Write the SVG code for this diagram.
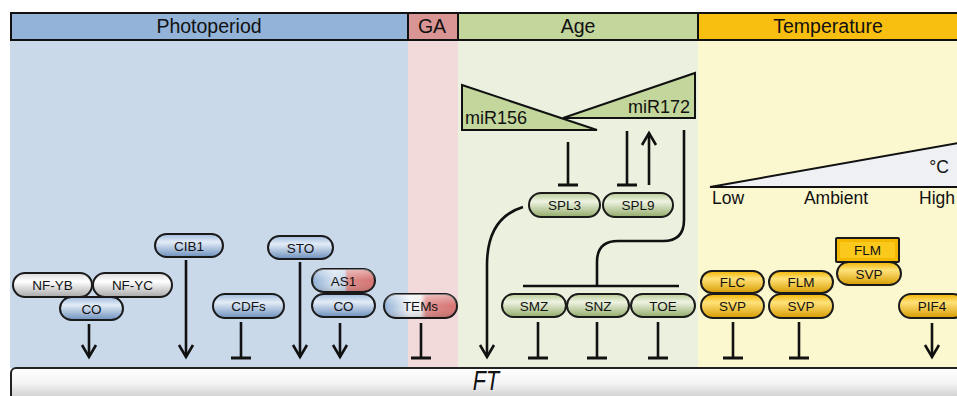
<svg xmlns="http://www.w3.org/2000/svg" width="957" height="396" viewBox="0 0 957 396">
<defs>
<style>
.hdr{stroke:#111;stroke-width:2}
.ht{font-family:"Liberation Sans",Arial,sans-serif;font-size:19.5px;fill:#111;text-anchor:middle}
.pill{stroke:#1a1a1a;stroke-width:2}
.nt{font-family:"Liberation Sans",Arial,sans-serif;font-size:13.5px;fill:#111;text-anchor:middle}
.ln{fill:none;stroke:#111;stroke-width:2.6}
.arr{marker-end:url(#ah)}
.inh{marker-end:url(#tb)}
.lab{font-family:"Liberation Sans",Arial,sans-serif;font-size:18px;fill:#111}
.tl{font-family:"Liberation Sans",Arial,sans-serif;font-size:17.5px;fill:#111}
.tri{stroke:#111;stroke-width:2}
</style>
<marker id="ah" markerUnits="userSpaceOnUse" markerWidth="20" markerHeight="20" refX="15" refY="10" orient="auto" viewBox="0 0 20 20">
<path d="M3 3 L15 10 L3 17" fill="none" stroke="#111" stroke-width="2.6"/>
</marker>
<marker id="tb" markerUnits="userSpaceOnUse" markerWidth="10" markerHeight="24" refX="5" refY="12" orient="auto" viewBox="0 0 10 24">
<path d="M5 2 L5 22" fill="none" stroke="#111" stroke-width="3"/>
</marker>
<linearGradient id="gBlue" x1="0" y1="0" x2="0" y2="1">
<stop offset="0" stop-color="#9fbbdd"/><stop offset="0.35" stop-color="#e3ecf7"/><stop offset="1" stop-color="#6d90bd"/>
</linearGradient>
<linearGradient id="gWhite" x1="0" y1="0" x2="0" y2="1">
<stop offset="0" stop-color="#d8d8d8"/><stop offset="0.35" stop-color="#ffffff"/><stop offset="1" stop-color="#a9a9a9"/>
</linearGradient>
<linearGradient id="gGreen" x1="0" y1="0" x2="0" y2="1">
<stop offset="0" stop-color="#b9cb96"/><stop offset="0.35" stop-color="#eef3e2"/><stop offset="1" stop-color="#93ab6a"/>
</linearGradient>
<linearGradient id="gYel" x1="0" y1="0" x2="0" y2="1">
<stop offset="0" stop-color="#f0b400"/><stop offset="0.35" stop-color="#ffe27a"/><stop offset="1" stop-color="#d79c00"/>
</linearGradient>
<linearGradient id="gAS1" x1="0" y1="0" x2="1" y2="0">
<stop offset="0" stop-color="#8eafd6"/><stop offset="0.35" stop-color="#d5e2f1"/><stop offset="0.52" stop-color="#c6d6ea"/><stop offset="0.56" stop-color="#dc8a88"/><stop offset="1" stop-color="#d57370"/>
</linearGradient>
<linearGradient id="gTEM" x1="0" y1="0" x2="1" y2="0">
<stop offset="0" stop-color="#8eafd6"/><stop offset="0.35" stop-color="#f2f4f8"/><stop offset="0.5" stop-color="#f0eeee"/><stop offset="0.58" stop-color="#de8d8b"/><stop offset="1" stop-color="#d57370"/>
</linearGradient>
<linearGradient id="gShade" x1="0" y1="0" x2="0" y2="1">
<stop offset="0" stop-color="#ffffff" stop-opacity="0.45"/><stop offset="0.5" stop-color="#ffffff" stop-opacity="0"/><stop offset="1" stop-color="#000000" stop-opacity="0.15"/>
</linearGradient>
<linearGradient id="gFT" x1="0" y1="0" x2="0" y2="1">
<stop offset="0" stop-color="#ffffff"/><stop offset="0.45" stop-color="#f4f4f4"/><stop offset="1" stop-color="#c4c4c4"/>
</linearGradient>
</defs>

<g id="backgrounds">
<rect x="10" y="40" width="398" height="328" fill="#c9d9ea"/>
<rect x="408" y="40" width="50" height="328" fill="#f3dada"/>
<rect x="458" y="40" width="240" height="328" fill="#ebf0df"/>
<rect x="698" y="40" width="260" height="328" fill="#fbf8cf"/>
</g>

<g id="headers">
<rect class="hdr" x="11" y="13" width="397" height="27" fill="#93b3d8"/>
<rect class="hdr" x="408" y="13" width="50" height="27" fill="#d99594"/>
<rect class="hdr" x="458" y="13" width="240" height="27" fill="#c3d69c"/>
<rect class="hdr" x="698" y="13" width="262" height="27" fill="#f9bf10"/>
<text class="ht" x="209" y="33">Photoperiod</text>
<text class="ht" x="432" y="33">GA</text>
<text class="ht" x="578" y="33">Age</text>
<text class="ht" x="828" y="33">Temperature</text>
</g>

<g id="connectors">
<line class="ln arr" x1="89" y1="324" x2="89" y2="357"/>
<line class="ln arr" x1="186" y1="260" x2="186" y2="357"/>
<line class="ln inh" x1="241" y1="322" x2="241" y2="358"/>
<line class="ln arr" x1="300" y1="262" x2="300" y2="357"/>
<line class="ln arr" x1="340" y1="323" x2="340" y2="357"/>
<line class="ln inh" x1="421" y1="323" x2="421" y2="358"/>
<line class="ln inh" x1="568" y1="142" x2="568" y2="185"/>
<line class="ln inh" x1="627" y1="131" x2="627" y2="185"/>
<line class="ln arr" x1="649" y1="185" x2="649" y2="133"/>
<path class="ln" d="M684 130 V220 Q684 241 663 241 H618 Q597 241 597 262 V286"/>
<line class="ln" x1="523" y1="286" x2="679" y2="286"/>
<path class="ln arr" d="M523 207 Q487 218 487 265 V357"/>
<line class="ln inh" x1="538" y1="322" x2="538" y2="358"/>
<line class="ln inh" x1="597" y1="322" x2="597" y2="358"/>
<line class="ln inh" x1="658" y1="322" x2="658" y2="358"/>
<line class="ln inh" x1="733" y1="322" x2="733" y2="358"/>
<line class="ln inh" x1="799" y1="322" x2="799" y2="358"/>
<line class="ln arr" x1="932" y1="323" x2="932" y2="357"/>
</g>

<g id="mir156">
<polygon class="tri" points="462,85 597,130 462,130" fill="#c3d69c"/>
<text class="lab" x="465" y="124">miR156</text>
</g>
<g id="mir172">
<polygon class="tri" points="563,118 695,73 695,118" fill="#c3d69c"/>
<text class="lab" x="690" y="113" text-anchor="end">miR172</text>
</g>

<g id="temperature-scale">
<polygon class="tri" points="710,187 958,143 958,187" fill="#eef0f3"/>
<text class="tl" x="949" y="173" text-anchor="end">°C</text>
<text class="tl" x="712" y="204">Low</text>
<text class="tl" x="836" y="204" text-anchor="middle">Ambient</text>
<text class="tl" x="919" y="204">High</text>
</g>

<g id="NF-YB"><rect class="pill" x="13" y="273" width="79" height="24" rx="12" fill="url(#gWhite)"/><text class="nt" x="52.5" y="290">NF-YB</text></g>
<g id="NF-YC"><rect class="pill" x="93" y="273" width="79" height="24" rx="12" fill="url(#gWhite)"/><text class="nt" x="132.5" y="290">NF-YC</text></g>
<g id="CO-1"><rect class="pill" x="60" y="297" width="63" height="23" rx="11.5" fill="url(#gBlue)"/><text class="nt" x="91.5" y="313.5">CO</text></g>
<g id="CIB1"><rect class="pill" x="155" y="234" width="68" height="23" rx="11.5" fill="url(#gBlue)"/><text class="nt" x="189" y="250.5">CIB1</text></g>
<g id="STO"><rect class="pill" x="268" y="236" width="65" height="23" rx="11.5" fill="url(#gBlue)"/><text class="nt" x="300.5" y="252.5">STO</text></g>
<g id="CDFs"><rect class="pill" x="213" y="294" width="71" height="24" rx="12" fill="url(#gBlue)"/><text class="nt" x="248.5" y="311">CDFs</text></g>
<g id="AS1"><rect class="pill" x="312" y="269" width="63" height="23" rx="11.5" fill="url(#gAS1)"/><rect x="312" y="269" width="63" height="23" rx="11.5" fill="url(#gShade)"/><text class="nt" x="343.5" y="285.5">AS1</text></g>
<g id="CO-2"><rect class="pill" x="312" y="294" width="63" height="23" rx="11.5" fill="url(#gBlue)"/><text class="nt" x="343.5" y="310.5">CO</text></g>
<g id="TEMs"><rect class="pill" x="384" y="294" width="73" height="24" rx="12" fill="url(#gTEM)"/><rect x="384" y="294" width="73" height="24" rx="12" fill="url(#gShade)"/><text class="nt" x="420.5" y="311">TEMs</text></g>

<g id="SPL3"><rect class="pill" x="529" y="193" width="71" height="24" rx="12" fill="url(#gGreen)"/><text class="nt" x="564.5" y="210">SPL3</text></g>
<g id="SPL9"><rect class="pill" x="603" y="193" width="70" height="24" rx="12" fill="url(#gGreen)"/><text class="nt" x="638" y="210">SPL9</text></g>
<g id="SMZ"><rect class="pill" x="502" y="294" width="64" height="23" rx="11.5" fill="url(#gGreen)"/><text class="nt" x="534" y="310.5">SMZ</text></g>
<g id="SNZ"><rect class="pill" x="567" y="294" width="62" height="23" rx="11.5" fill="url(#gGreen)"/><text class="nt" x="598" y="310.5">SNZ</text></g>
<g id="TOE"><rect class="pill" x="631" y="294" width="64" height="23" rx="11.5" fill="url(#gGreen)"/><text class="nt" x="663" y="310.5">TOE</text></g>

<g id="FLC"><rect class="pill" x="701" y="271" width="63" height="22" rx="11" fill="url(#gYel)"/><text class="nt" x="732.5" y="287">FLC</text></g>
<g id="SVP-1"><rect class="pill" x="701" y="294" width="63" height="24" rx="12" fill="url(#gYel)"/><text class="nt" x="732.5" y="311">SVP</text></g>
<g id="FLM-1"><rect class="pill" x="769" y="271" width="64" height="22" rx="11" fill="url(#gYel)"/><text class="nt" x="801" y="287">FLM</text></g>
<g id="SVP-2"><rect class="pill" x="769" y="294" width="64" height="24" rx="12" fill="url(#gYel)"/><text class="nt" x="801" y="311">SVP</text></g>
<g id="FLM-2"><rect class="pill" x="836" y="238" width="63" height="24" rx="1" fill="#f4b800"/><rect x="840" y="242" width="55" height="16" fill="#fbc81c"/><text class="nt" x="867.5" y="255">FLM</text></g>
<g id="SVP-3"><rect class="pill" x="837" y="262" width="64" height="23" rx="11.5" fill="url(#gYel)"/><text class="nt" x="869" y="278.5">SVP</text></g>
<g id="PIF4"><rect class="pill" x="899" y="294" width="66" height="24" rx="12" fill="url(#gYel)"/><text class="nt" x="932" y="311">PIF4</text></g>

<g id="FT">
<rect x="11" y="368" width="955" height="34" rx="5" fill="url(#gFT)" stroke="#222" stroke-width="2"/>
<text x="0" y="0" transform="translate(486 390) scale(0.9 1.15)" font-family="'Liberation Sans',Arial,sans-serif" font-style="italic" font-size="24" text-anchor="middle" fill="#111">FT</text>
</g>
</svg>
